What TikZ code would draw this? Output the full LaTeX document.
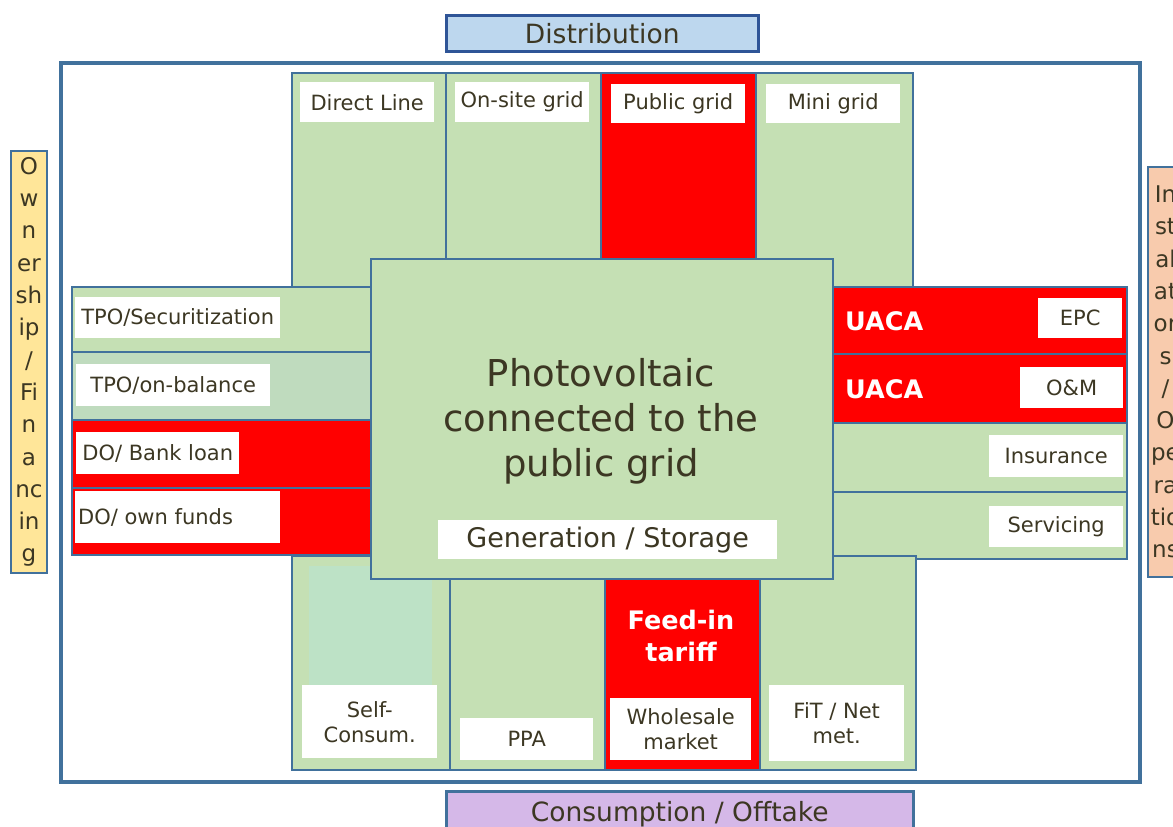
\documentclass[tikz,border=0pt]{standalone}
\usepackage{fontspec}
\setmainfont{DejaVu Sans}
\definecolor{bord}{RGB}{65,113,156}
\definecolor{dbord}{RGB}{47,85,151}
\definecolor{cgreen}{RGB}{197,224,180}
\definecolor{cmint}{RGB}{191,219,190}
\definecolor{cmint2}{RGB}{189,226,198}
\definecolor{cred}{RGB}{255,0,0}
\definecolor{cblue}{RGB}{189,215,238}
\definecolor{clav}{RGB}{213,184,232}
\definecolor{cyel}{RGB}{255,230,153}
\definecolor{corg}{RGB}{248,203,173}
\definecolor{textc}{RGB}{60,55,35}
\newcommand{\labfont}{\fontsize{21}{25}\selectfont}
\newcommand{\titfont}{\fontsize{26.5}{32}\selectfont}
\newcommand{\letfont}{\fontsize{23}{32.3}\selectfont}
\newcommand{\bigfont}{\fontsize{37}{45}\selectfont}
\newcommand{\boldfont}{\fontsize{25.5}{32}\selectfont\bfseries}
% name, style, x1, y1, x2, y2, text
\newcommand{\cellbox}[7]{\node[#2, anchor=north west, minimum width={(#5)-(#3)}, minimum height={(#6)-(#4)}] (#1) at (#3,#4) {#7};}
\tikzset{
  cell/.style={draw=bord, line width=2pt, inner sep=0pt, fill=cgreen},
  redcell/.style={cell, fill=cred},
  lab/.style={fill=white, inner sep=0pt, text=textc, font=\labfont, align=center},
  title/.style={line width=2.5pt, inner sep=0pt, text=textc, font=\titfont},
  side/.style={draw=bord, line width=2pt, inner sep=0pt, text=textc, font=\letfont, align=center},
  uaca/.style={text=white, font=\boldfont, inner sep=0pt, anchor=west},
}
\begin{document}
\begin{tikzpicture}[x=1pt,y=-1pt]
\clip (0,0) rectangle (1173,827);
\fill[white] (0,0) rectangle (1173,827);
% outer frame
\cellbox{frame}{draw=bord, line width=3.5pt, inner sep=0pt}{59}{61}{1138}{780}{}
% titles
\cellbox{distr}{title, draw=dbord, fill=cblue}{445}{14}{757}{50}{Distribution}
\cellbox{cons}{title, draw=bord, fill=clav}{445}{790}{912}{836}{Consumption / Offtake}
\cellbox{own}{side, fill=cyel}{10}{150}{46}{572}{O\\w\\n\\er\\sh\\ip\\/\\Fi\\n\\a\\nc\\in\\g}
\cellbox{inst}{side, fill=corg}{1147}{166}{1182}{576}{In\\st\\al\\at\\or\\s\\/\\O\\pe\\ra\\tio\\ns}
% top columns
\cellbox{colDL}{cell}{291}{72}{445}{286}{}
\cellbox{colOS}{cell}{445}{72}{600}{286}{}
\cellbox{colPG}{redcell}{600}{72}{755}{286}{}
\cellbox{colMG}{cell}{755}{72}{912}{286}{}
\cellbox{lDL}{lab}{300}{82}{434}{122}{Direct Line}
\cellbox{lOS}{lab}{455}{82}{589}{122}{On-site grid}
\cellbox{lPG}{lab}{611}{84}{745}{123}{Public grid}
\cellbox{lMG}{lab}{766}{84}{900}{123}{Mini grid}
% left rows
\cellbox{rTS}{cell}{71}{286}{370}{351}{}
\cellbox{rTB}{cell, fill=cmint}{71}{351}{370}{419}{}
\cellbox{rBL}{redcell}{71}{419}{370}{487}{}
\cellbox{rOF}{redcell}{71}{487}{370}{554}{}
\cellbox{lTS}{lab}{75}{297}{280}{338}{TPO/Securitization}
\cellbox{lTB}{lab}{76}{364}{270}{406}{TPO/on-balance}
\cellbox{lBL}{lab}{76}{432}{239}{474}{DO/ Bank loan}
\cellbox{lOF}{lab}{75}{491}{280}{543}{}
\node[text=textc, font=\labfont, inner sep=0pt, anchor=west] (tOF) at (78,517) {DO/ own funds};
% right rows
\cellbox{rEPC}{redcell}{832}{286}{1126}{353}{}
\cellbox{rOM}{redcell}{832}{353}{1126}{422}{}
\cellbox{rIns}{cell}{832}{422}{1126}{491}{}
\cellbox{rSrv}{cell}{832}{491}{1126}{558}{}
\node[uaca] (u1) at (845,321) {UACA};
\node[uaca] (u2) at (845,389) {UACA};
\cellbox{lEPC}{lab}{1038}{298}{1122}{338}{EPC}
\cellbox{lOM}{lab}{1020}{367}{1123}{408}{O\&M}
\cellbox{lIns}{lab}{989}{435}{1123}{477}{Insurance}
\cellbox{lSrv}{lab}{989}{506}{1123}{547}{Servicing}
% bottom columns
\cellbox{cSC}{cell}{291}{555}{449}{769}{}
\cellbox{cPPA}{cell}{449}{555}{604}{769}{}
\cellbox{cFIT}{redcell}{604}{555}{759}{769}{}
\cellbox{cNM}{cell}{759}{555}{915}{769}{}
\cellbox{mSC}{fill=cmint2, inner sep=0pt}{309}{566}{432}{685}{}
\cellbox{lSC}{lab}{302}{685}{437}{758}{Self-\\Consum.}
\cellbox{lPPA}{lab}{460}{718}{593}{760}{PPA}
\node[text=white, font=\boldfont, inner sep=0pt, align=center] (tFIT) at (681,636) {Feed-in\\tariff};
\cellbox{lWM}{lab}{610}{698}{751}{760}{Wholesale\\market}
\cellbox{lNM}{lab}{769}{685}{904}{761}{FiT / Net\\met.}
% center
\cellbox{center}{cell}{370}{258}{832}{578}{}
\node[text=textc, font=\bigfont, align=center, inner sep=0pt] (pv) at (601,421) {Photovoltaic\\connected to the\\public grid};
\cellbox{gen}{lab, font=\fontsize{27}{32}\selectfont}{438}{520}{777}{559}{Generation / Storage}
\end{tikzpicture}
\end{document}
